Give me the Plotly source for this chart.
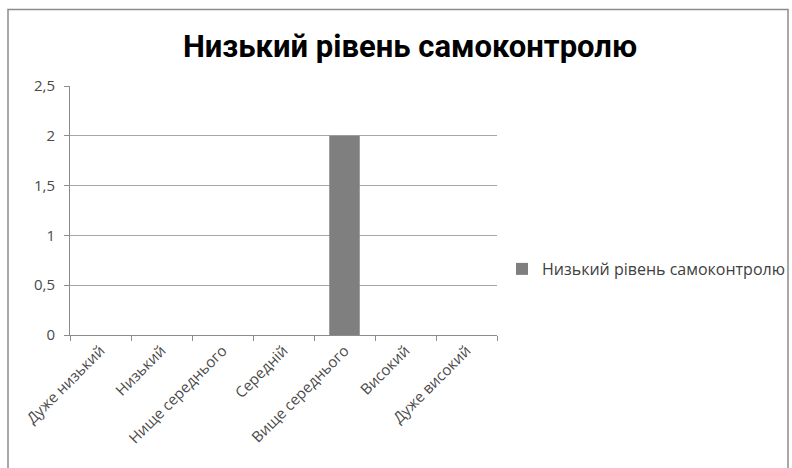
import plotly.graph_objects as go

categories = ["Дуже низький", "Низький", "Нище середнього", "Середній",
              "Вище середнього", "Високий", "Дуже високий"]
values = [0, 0, 0, 0, 2, 0, 0]
series_name = "Низький рівень самоконтролю"
title_text = "Низький рівень самоконтролю"
y_ticks = [0, 0.5, 1, 1.5, 2, 2.5]

L, R, T, B = 70, 497, 86, 335
W, H = 792, 468
pw, ph = R - L, B - T

def px(x):
    return (x - L) / pw

def py(y):
    return (B - y) / ph

fig = go.Figure()
fig.add_trace(go.Bar(
    x=categories, y=values, name=series_name,
    marker=dict(color="#7f7f7f", line=dict(width=0)),
    showlegend=True,
))

fig.update_layout(
    width=W, height=H,
    margin=dict(l=L, r=W - R, t=T, b=H - B, autoexpand=False),
    paper_bgcolor="white", plot_bgcolor="white",
    separators=", ",
    bargap=0.5,
    font=dict(family="Open Sans", color="#404040", size=12),
    title=dict(text="<b>" + title_text + "</b>", x=410 / W, xref="container", xanchor="center",
               y=1 - 46 / H, yref="container", yanchor="middle",
               font=dict(family="Roboto", size=31, color="#000000")),
    showlegend=True,
    legend=dict(x=px(502), xanchor="left", y=py(269), yanchor="middle",
                font=dict(family="Open Sans", size=16, color="#404040"),
                itemwidth=30, bgcolor="rgba(0,0,0,0)"),
    xaxis=dict(type="category", showline=True, linecolor="#8c8c8c", linewidth=1,
               ticks="outside", tickson="boundaries", ticklen=5, tickcolor="#8c8c8c",
               tickangle=-45, tickfont=dict(size=15, color="#4a4a4a"),
               showgrid=False, zeroline=False),
    yaxis=dict(range=[0, 2.5], tickvals=y_ticks, showline=True, linecolor="#8c8c8c",
               linewidth=1, ticks="outside", ticklen=5, tickcolor="#8c8c8c",
               ticklabelstandoff=6,
               showgrid=True, gridcolor="#a6a6a6", gridwidth=1, zeroline=False,
               tickfont=dict(size=15, color="#4a4a4a")),
    shapes=[dict(type="rect", xref="paper", yref="paper",
                 x0=px(8), x1=px(788), y0=py(472), y1=py(9.5),
                 line=dict(color="#8c8c8c", width=1.5), layer="below")],
)

fig.write_html("out.html", config={"displayModeBar": False},
               post_script="document.body.style.margin='0';")
